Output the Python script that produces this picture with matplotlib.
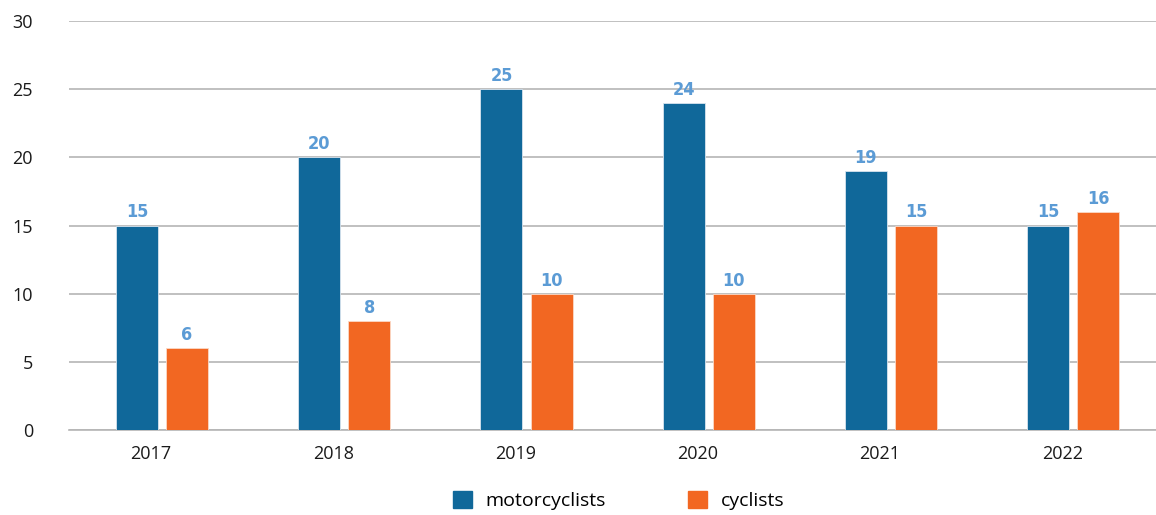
import numpy as np
from matplotlib import pyplot as plt
from matplotlib.patches import Patch

# ---- DATA ----
years = ["2017", "2018", "2019", "2020", "2021", "2022"]
motorcyclists = [15, 20, 25, 24, 19, 15]
cyclists = [6, 8, 10, 10, 15, 16]

MOTO_COLOR = "#10689a"
CYCLE_COLOR = "#f26722"
LABEL_COLOR = "#5b9bd5"

plt.rcParams["font.family"] = ["Open Sans", "DejaVu Sans"]

fig = plt.figure(figsize=(11.56, 5.15), dpi=100)
ax = fig.add_axes([0.0597, 0.165, 0.9403, 0.794])

x = np.arange(len(years))
width = 0.23

bars_m = ax.bar(x - 0.077, motorcyclists, width, color=MOTO_COLOR,
                edgecolor="#d8e4ee", linewidth=0.6, zorder=3)
bars_c = ax.bar(x + 0.198, cyclists, width, color=CYCLE_COLOR,
                edgecolor="#fbd9c6", linewidth=0.6, zorder=3)

# value labels above each bar
for bars in (bars_m, bars_c):
    ax.bar_label(bars, padding=3, color=LABEL_COLOR, fontsize=13,
                 fontweight="bold", fontstretch="condensed",
                 family="DejaVu Sans")

ax.set_xlim(-0.45, 5.515)
ax.set_ylim(0, 30)
ax.set_yticks(range(0, 31, 5))
ax.set_xticks(x)
ax.set_xticklabels(years)
ax.tick_params(axis="both", length=0, labelsize=13, colors="#1a1a1a")
ax.tick_params(axis="y", pad=26)
ax.tick_params(axis="x", pad=11)

ax.grid(axis="y", color="#b5b5b5", linewidth=1.2, zorder=0)
for side in ("left", "right", "top"):
    ax.spines[side].set_visible(False)
ax.spines["bottom"].set_color("#b5b5b5")
ax.spines["bottom"].set_linewidth(1.2)

handles = [Patch(color=MOTO_COLOR, label="motorcyclists"),
           Patch(color=CYCLE_COLOR, label="cyclists")]
fig.legend(handles=handles, loc="center", bbox_to_anchor=(0.535, 0.028),
           ncol=2, frameon=False, fontsize=14, handlelength=1.0,
           handleheight=1.0, columnspacing=4.2, handletextpad=0.7)

fig.savefig("out.png", dpi=100)
